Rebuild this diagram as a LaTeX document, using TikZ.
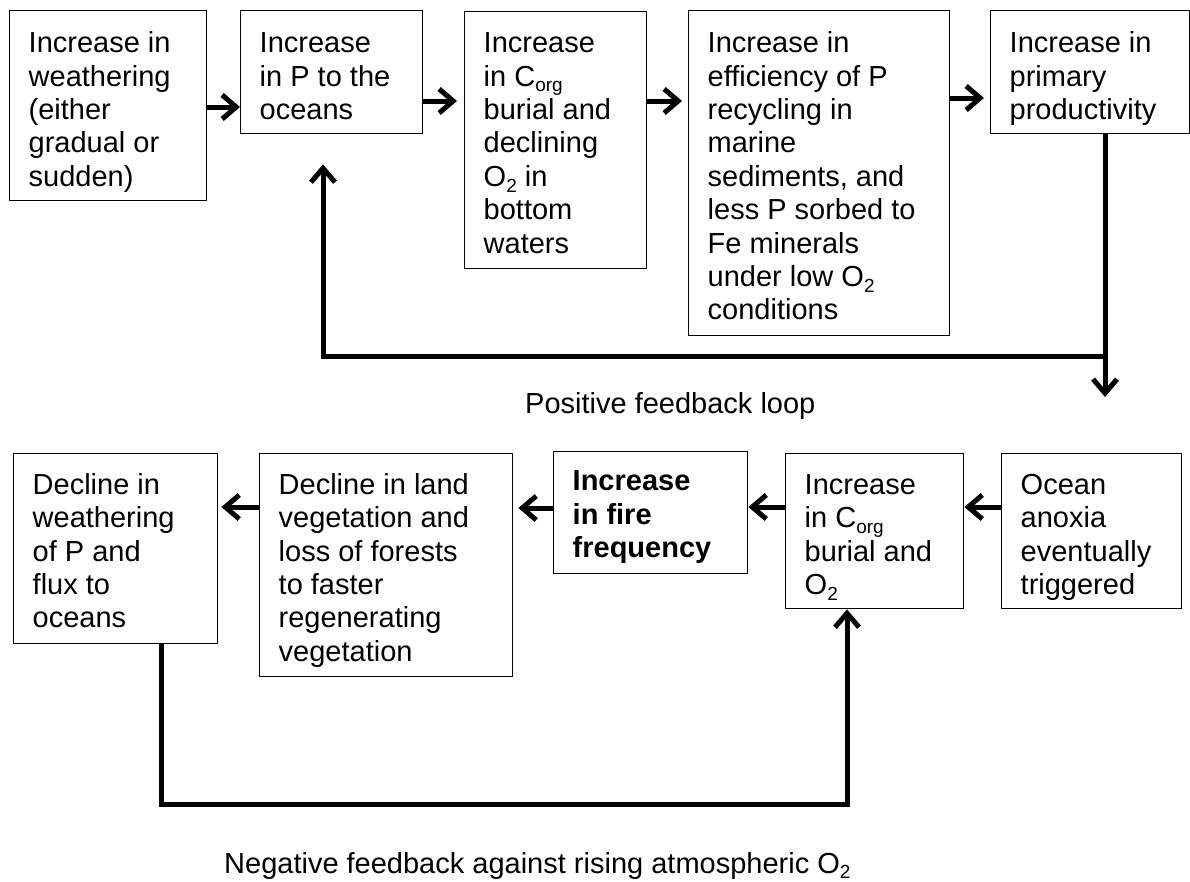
\documentclass[tikz,border=0pt]{standalone}
\usepackage{fontspec}
\setmainfont{Liberation Sans}
\usetikzlibrary{arrows.meta}

% text block of a box: first-baseline offset, box height, text width, text
\newcommand{\boxtext}[4]{\parbox[c][#2pt][t]{#3pt}{\raggedright\rule{0pt}{#1pt}#4}}
% small lowered index (C_org, O_2)
\newcommand{\lowsub}[1]{\raisebox{-0.2em}{\fontsize{19}{19}\selectfont #1}}

\begin{document}
\begin{tikzpicture}[x=1pt,y=-1pt,
  every node/.style={font=\fontsize{29}{33.4}\selectfont},
  flowbox/.style={draw=black, line width=1.4pt, inner xsep=19pt, inner ysep=0pt,
                  anchor=north west, fill=white},
  link/.style={line width=5pt, -{Straight Barb[length=14pt,width=24pt]}},
  caption/.style={anchor=base west, inner sep=0pt}]

\useasboundingbox (0,0) rectangle (1190,881);

% ---- upper chain: positive feedback ----
\node[flowbox] (b1) at (9,10)
  {\boxtext{42}{190}{159}{Increase in\\weathering\\(either\\gradual or\\sudden)}};
\node[flowbox] (b2) at (240,10)
  {\boxtext{42}{123}{144}{Increase\\in P to the\\oceans}};
\node[flowbox] (b3) at (464,11)
  {\boxtext{41}{257}{144}{Increase\\in C\lowsub{org}\\burial and\\declining\\O\lowsub{2} in\\bottom\\waters}};
\node[flowbox] (b4) at (688,10)
  {\boxtext{42}{325}{223}{Increase in\\efficiency of P\\recycling in\\marine\\sediments, and\\less P sorbed to\\Fe minerals\\under low O\lowsub{2}\\conditions}};
\node[flowbox] (b5) at (990,10)
  {\boxtext{42}{123}{161}{Increase in\\primary\\productivity}};

% ---- lower chain: negative feedback ----
\node[flowbox] (bA) at (13,453)
  {\boxtext{40.5}{190}{166}{Decline in\\weathering\\of P and\\flux to\\oceans}};
\node[flowbox] (bB) at (259,453)
  {\boxtext{40.5}{223}{215}{Decline in land\\vegetation and\\loss of forests\\to faster\\regenerating\\vegetation}};
\node[flowbox] (bC) at (553,451)
  {\boxtext{39}{122}{156}{\bfseries Increase\\in fire\\frequency}};
\node[flowbox] (bD) at (785,453)
  {\boxtext{40.5}{155}{140}{Increase\\in C\lowsub{org}\\burial and\\O\lowsub{2}}};
\node[flowbox] (bE) at (1001,453)
  {\boxtext{40.5}{155}{142}{Ocean\\anoxia\\eventually\\triggered}};

% ---- captions ----
\node[caption] (plabel) at (525,413) {Positive feedback loop};
\node[caption] (nlabel) at (224,873) {Negative feedback against rising atmospheric O\lowsub{2}};

% ---- short arrows along the upper chain ----
\draw[link] (b1.east |- 0,107) -- (b2.west |- 0,107);
\draw[link, shorten >=7pt] (b2.east |- 0,101) -- (b3.west |- 0,101);
\draw[link, shorten >=6pt] (b3.east |- 0,101) -- (b4.west |- 0,101);
\draw[link, shorten >=6pt] (b4.east |- 0,98) -- (b5.west |- 0,98);

% ---- short arrows along the lower chain (right to left) ----
\draw[link] (bE.west |- 0,507) -- (bD.east |- 0,507);
\draw[link] (bD.west |- 0,507) -- (bC.east |- 0,507);
\draw[link, shorten >=5pt] (bC.west |- 0,508) -- (bB.east |- 0,508);
\draw[link, shorten >=3pt] (bB.west |- 0,507) -- (bA.east |- 0,507);

% ---- positive feedback loop ----
\coordinate (xR) at (1105,0);
\coordinate (xL) at (323,0);
\coordinate (jp) at (1105,356);
\draw[link, shorten >=56pt] (b5.south -| xR) -- (bE.north -| xR);
\draw[link, shorten >=30pt] (jp) -| (b2.south -| xL);

% ---- negative feedback loop ----
\coordinate (xA) at (161,0);
\coordinate (xD) at (847,0);
\draw[link] (bA.south -| xA) -- ++(0,160) -| (bD.south -| xD);
\end{tikzpicture}
\end{document}
